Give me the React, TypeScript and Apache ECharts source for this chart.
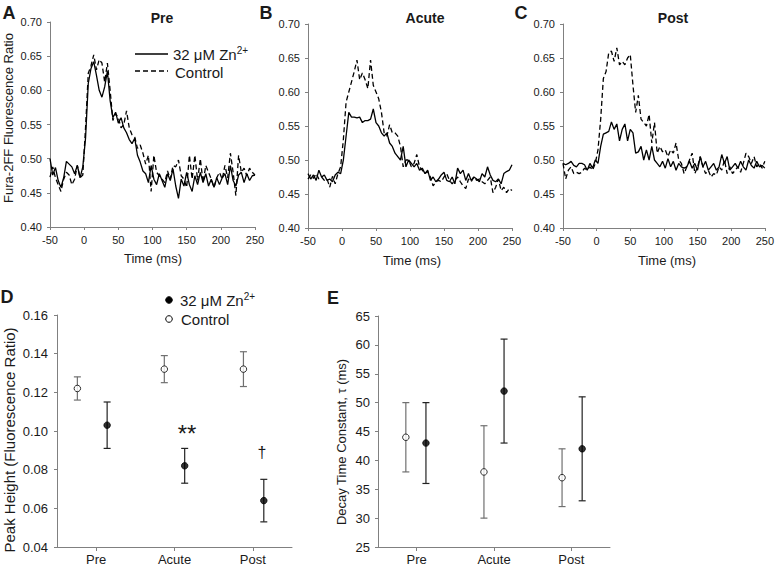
import React, { useEffect, useRef } from 'react';
import * as echarts from 'echarts';

const FONT = 'Liberation Sans, Arial, sans-serif';

// sample times (ms)
const times = [-50, -46, -42, -38, -34, -30, -26, -22, -18, -14, -10, -6, -2,
  2, 6, 10, 14, 18, 22, 26, 30, 34, 38, 42, 46, 50, 54, 58, 62, 66, 70, 74, 78,
  82, 86, 90, 94, 98, 102, 106, 110, 114, 118, 122, 126, 130, 134, 138, 142, 146, 150, 154, 158,
  162, 166, 170, 174, 178, 182, 186, 190, 194, 198, 202, 206, 210, 214, 218, 222, 226, 230, 234, 238,
  242, 246, 250];

const preZn = [0.500, 0.476, 0.487, 0.468, 0.458, 0.472, 0.496, 0.492, 0.488, 0.478, 0.490, 0.472, 0.488,
  0.530, 0.610, 0.632, 0.642, 0.622, 0.600, 0.590, 0.605, 0.628, 0.585,
  0.560, 0.568, 0.552, 0.560, 0.545, 0.538, 0.528, 0.522, 0.530, 0.505,
  0.495, 0.482, 0.478, 0.465, 0.490, 0.470, 0.462, 0.478, 0.468, 0.458,
  0.478, 0.468, 0.485, 0.460, 0.442, 0.470, 0.460, 0.480, 0.462, 0.452,
  0.475, 0.462, 0.480, 0.465, 0.478, 0.460, 0.470, 0.458, 0.472, 0.462,
  0.472, 0.478, 0.462, 0.490, 0.468, 0.460, 0.476, 0.480, 0.465, 0.478,
  0.468, 0.475, 0.476];
const preCtrl = [0.473, 0.488, 0.472, 0.462, 0.452, 0.470, 0.480, 0.476, 0.462, 0.470, 0.490, 0.472, 0.476,
  0.545, 0.625, 0.636, 0.652, 0.630, 0.645, 0.640, 0.612, 0.640, 0.600,
  0.556, 0.566, 0.560, 0.545, 0.550, 0.570, 0.545, 0.535, 0.532, 0.515,
  0.520, 0.508, 0.492, 0.505, 0.452, 0.505, 0.480, 0.475, 0.470, 0.465,
  0.482, 0.470, 0.490, 0.488, 0.498, 0.475, 0.470, 0.458, 0.505, 0.470,
  0.505, 0.468, 0.500, 0.465, 0.490, 0.480, 0.470, 0.458, 0.472, 0.480,
  0.470, 0.490, 0.472, 0.508, 0.480, 0.446, 0.505, 0.480, 0.486, 0.475,
  0.486, 0.480, 0.476];
const acuteZn = [0.480, 0.472, 0.478, 0.470, 0.485, 0.475, 0.478, 0.470, 0.472, 0.468, 0.478, 0.482, 0.480,
  0.500, 0.535, 0.570, 0.563, 0.563, 0.562, 0.563, 0.555, 0.558, 0.558,
  0.560, 0.575, 0.555, 0.550, 0.540, 0.535, 0.540, 0.525, 0.520, 0.510,
  0.505, 0.500, 0.520, 0.490, 0.500, 0.495, 0.490, 0.495, 0.485, 0.488,
  0.480, 0.485, 0.470, 0.475, 0.468, 0.472, 0.478, 0.482, 0.470, 0.468,
  0.475, 0.465, 0.488, 0.480, 0.485, 0.470, 0.480, 0.470, 0.475, 0.472,
  0.468, 0.480, 0.475, 0.490, 0.478, 0.470, 0.468, 0.472, 0.465, 0.480,
  0.483, 0.485, 0.493];
const acuteCtrl = [0.472, 0.478, 0.473, 0.480, 0.472, 0.475, 0.470, 0.472, 0.460, 0.476, 0.465, 0.480, 0.490,
  0.530, 0.585, 0.600, 0.615, 0.630, 0.647, 0.618, 0.628, 0.618, 0.605,
  0.647, 0.610, 0.600, 0.590, 0.570, 0.540, 0.535, 0.552, 0.540, 0.540,
  0.535, 0.520, 0.490, 0.500, 0.500, 0.490, 0.495, 0.508, 0.490, 0.485,
  0.480, 0.483, 0.475, 0.462, 0.468, 0.470, 0.468, 0.475, 0.480, 0.470,
  0.465, 0.470, 0.475, 0.468, 0.462, 0.458, 0.472, 0.468, 0.475, 0.470,
  0.472, 0.468, 0.465, 0.470, 0.475, 0.452, 0.460, 0.472, 0.455, 0.460,
  0.452, 0.458, 0.455];
const postZn = [0.495, 0.493, 0.495, 0.498, 0.492, 0.490, 0.495, 0.495, 0.493, 0.485, 0.495, 0.488, 0.500,
  0.495, 0.520, 0.538, 0.540, 0.542, 0.556, 0.545, 0.553, 0.528, 0.545,
  0.553, 0.528, 0.545, 0.540, 0.510, 0.512, 0.520, 0.500, 0.515, 0.500,
  0.520, 0.500, 0.495, 0.490, 0.498, 0.488, 0.502, 0.490, 0.498, 0.485,
  0.495, 0.490, 0.488, 0.490, 0.498, 0.488, 0.495, 0.485, 0.505, 0.490,
  0.498, 0.485, 0.490, 0.495, 0.485, 0.490, 0.508, 0.495, 0.505, 0.485,
  0.490, 0.495, 0.488, 0.498, 0.490, 0.485, 0.500, 0.492, 0.488, 0.498,
  0.490, 0.492, 0.488];
const postCtrl = [0.495, 0.472, 0.485, 0.490, 0.480, 0.482, 0.480, 0.482, 0.488, 0.485, 0.490, 0.485, 0.495,
  0.515, 0.560, 0.620, 0.630, 0.658, 0.660, 0.645, 0.665, 0.640, 0.645,
  0.640, 0.650, 0.655, 0.610, 0.570, 0.595, 0.560, 0.555, 0.550, 0.567,
  0.525, 0.555, 0.510, 0.520, 0.512, 0.515, 0.505, 0.515, 0.510, 0.525,
  0.500, 0.495, 0.480, 0.490, 0.500, 0.510, 0.480, 0.490, 0.505, 0.490,
  0.480, 0.485, 0.475, 0.480, 0.478, 0.490, 0.485, 0.500, 0.480, 0.490,
  0.480, 0.485, 0.490, 0.482, 0.495, 0.510, 0.505, 0.495, 0.505, 0.490,
  0.495, 0.488, 0.498];

const conditions = ['Pre', 'Acute', 'Post'];
const peakZn = [0.103, 0.082, 0.064];
const peakZnErr = [0.012, 0.009, 0.011];
const peakCtrl = [0.122, 0.132, 0.132];
const peakCtrlErr = [0.006, 0.007, 0.009];
const tauZn = [43, 52, 42];
const tauZnErr = [7, 9, 9];
const tauCtrl = [44, 38, 37];
const tauCtrlErr = [6, 8, 5];

// horizontal placement of markers within category bands (layout)
const dCtrlShift = [-0.24, -0.13, -0.12];
const dZnShift = [0.14, 0.13, 0.14];
const eCtrlShift = [-0.14, -0.13, -0.12];
const eZnShift = [0.12, 0.13, 0.14];

const AX = '#808080';
const TXT = '#1a1a1a';

function pairs(vals: number[]) {
  return times.map((t, i) => [t, vals[i]]);
}

function traceSeries(idx: number, vals: number[], dashed: boolean) {
  return {
    type: 'line', xAxisIndex: idx, yAxisIndex: idx, data: pairs(vals),
    showSymbol: false, symbol: 'none', silent: true,
    lineStyle: { color: '#000', width: 1.3, type: dashed ? [5, 3] : 'solid' },
  };
}

function errSeries(xIdx: number, yIdx: number, means: number[], errs: number[], shifts: number[], color: string) {
  return {
    type: 'custom', xAxisIndex: xIdx, yAxisIndex: yIdx, silent: true, z: 2,
    data: means.map((m, i) => [i + 0.5 + shifts[i], m - errs[i], m + errs[i]]),
    renderItem: (_p: any, api: any) => {
      const x = api.value(0);
      const a = api.coord([x, api.value(2)]);
      const b = api.coord([x, api.value(1)]);
      const w = 3.5;
      const st = { stroke: color, lineWidth: 1.2 };
      return {
        type: 'group', children: [
          { type: 'line', shape: { x1: a[0], y1: a[1], x2: b[0], y2: b[1] }, style: st },
          { type: 'line', shape: { x1: a[0] - w, y1: a[1], x2: a[0] + w, y2: a[1] }, style: st },
          { type: 'line', shape: { x1: b[0] - w, y1: b[1], x2: b[0] + w, y2: b[1] }, style: st },
        ],
      };
    },
  };
}

function pointSeries(xIdx: number, yIdx: number, means: number[], shifts: number[], filled: boolean) {
  return {
    type: 'scatter', xAxisIndex: xIdx, yAxisIndex: yIdx, silent: true, z: 3,
    symbol: 'circle', symbolSize: 6.5,
    data: means.map((m, i) => [i + 0.5 + shifts[i], m]),
    itemStyle: { color: filled ? '#000' : '#fff', borderColor: '#000', borderWidth: 1 },
  };
}

const line = { show: true, onZero: false, lineStyle: { color: AX } };

function timeAxis(grid: number) {
  return {
    type: 'value', gridIndex: grid, min: -50, max: 250, interval: 50,
    axisLine: line,
    axisTick: { show: true, length: 3, lineStyle: { color: AX } },
    axisLabel: { color: TXT, fontFamily: FONT, fontSize: 11, margin: 7 },
    splitLine: { show: false },
  };
}
function ratioAxis(grid: number) {
  return {
    type: 'value', gridIndex: grid, min: 0.4, max: 0.7, interval: 0.05,
    axisLine: line,
    axisTick: { show: true, length: 3, lineStyle: { color: AX } },
    axisLabel: { color: TXT, fontFamily: FONT, fontSize: 11, margin: 8, formatter: (v: number) => v.toFixed(2) },
    splitLine: { show: false },
  };
}
function catAxis(grid: number) {
  return {
    type: 'category', gridIndex: grid, data: conditions, boundaryGap: true,
    axisLine: line,
    axisTick: { show: true, alignWithLabel: true, length: 4, lineStyle: { color: AX } },
    axisLabel: { color: TXT, fontFamily: FONT, fontSize: 13, margin: 6 },
    splitLine: { show: false },
  };
}
function hiddenAxis(grid: number) {
  return { type: 'value', gridIndex: grid, min: 0, max: 3, show: false, splitLine: { show: false } };
}

function txt(text: string, x: number, y: number, size: number, opts: any = {}) {
  return {
    type: 'text', x, y, rotation: opts.rotation || 0, silent: true,
    style: {
      text, fill: TXT, fontFamily: FONT, fontSize: size, fontWeight: opts.bold ? 'bold' : 'normal',
      textAlign: opts.align || 'center', textVerticalAlign: 'middle', rich: opts.rich,
    },
  };
}

export default function App() {
  const ref = useRef<HTMLDivElement>(null);
  useEffect(() => {
    const chart = echarts.init(ref.current!, null, { renderer: 'svg' });
    const supRich = {
      a: { fontSize: 15, fontFamily: FONT, fill: TXT },
      s: { fontSize: 10, fontFamily: FONT, fill: TXT, padding: [0, 0, 8, 0] },
    };
    const option: any = {
      animation: false,
      backgroundColor: '#fff',
      grid: [
        { left: 50, top: 22, width: 205, height: 205 },
        { left: 308, top: 24, width: 204, height: 204 },
        { left: 563, top: 24, width: 204, height: 204 },
        { left: 57, top: 315, width: 235, height: 233 },
        { left: 378, top: 316, width: 232, height: 232 },
      ],
      xAxis: [timeAxis(0), timeAxis(1), timeAxis(2), catAxis(3), hiddenAxis(3), catAxis(4), hiddenAxis(4)],
      yAxis: [
        ratioAxis(0), ratioAxis(1), ratioAxis(2),
        {
          type: 'value', gridIndex: 3, min: 0.04, max: 0.16, interval: 0.02,
          axisLine: line,
          axisTick: { show: true, length: 3, lineStyle: { color: AX } },
          axisLabel: { color: TXT, fontFamily: FONT, fontSize: 13, margin: 9, formatter: (v: number) => v.toFixed(2) },
          splitLine: { show: false },
        },
        {
          type: 'value', gridIndex: 4, min: 25, max: 65, interval: 5,
          axisLine: line,
          axisTick: { show: true, length: 3, lineStyle: { color: AX } },
          axisLabel: { color: TXT, fontFamily: FONT, fontSize: 13, margin: 8 },
          splitLine: { show: false },
        },
      ],
      series: [
        traceSeries(0, preZn, false), traceSeries(0, preCtrl, true),
        traceSeries(1, acuteZn, false), traceSeries(1, acuteCtrl, true),
        traceSeries(2, postZn, false), traceSeries(2, postCtrl, true),
        errSeries(4, 3, peakCtrl, peakCtrlErr, dCtrlShift, '#707070'),
        errSeries(4, 3, peakZn, peakZnErr, dZnShift, '#222'),
        pointSeries(4, 3, peakCtrl, dCtrlShift, false),
        pointSeries(4, 3, peakZn, dZnShift, true),
        errSeries(6, 4, tauCtrl, tauCtrlErr, eCtrlShift, '#707070'),
        errSeries(6, 4, tauZn, tauZnErr, eZnShift, '#222'),
        pointSeries(6, 4, tauCtrl, eCtrlShift, false),
        pointSeries(6, 4, tauZn, eZnShift, true),
      ],
      graphic: [
        txt('A', 9, 13, 18, { bold: true }),
        txt('B', 266, 13, 18, { bold: true }),
        txt('C', 521, 13, 18, { bold: true }),
        txt('D', 7, 297, 18, { bold: true }),
        txt('E', 333, 298, 18, { bold: true }),
        txt('Pre', 162, 18, 14, { bold: true }),
        txt('Acute', 425, 18, 14, { bold: true }),
        txt('Post', 673, 18, 14, { bold: true }),
        txt('Fura-2FF Fluorescence Ratio', 8, 118, 13, { rotation: Math.PI / 2 }),
        txt('Time (ms)', 153, 258, 13),
        txt('Time (ms)', 412, 260, 13),
        txt('Time (ms)', 667, 260, 13),
        txt('Peak Height (Fluorescence Ratio)', 9, 440, 15, { rotation: Math.PI / 2 }),
        txt('Decay Time Constant, τ (ms)', 341, 442, 13, { rotation: Math.PI / 2 }),
        // legend A
        { type: 'line', silent: true, shape: { x1: 135, y1: 54, x2: 168, y2: 54 }, style: { stroke: '#000', lineWidth: 1.5 } },
        { type: 'line', silent: true, shape: { x1: 135, y1: 71, x2: 168, y2: 71 }, style: { stroke: '#000', lineWidth: 1.5, lineDash: [5, 3] } },
        txt('{a|32 μM Zn}{s|2+}', 173, 54, 15, { align: 'left', rich: supRich }),
        txt('Control', 175, 72, 15, { align: 'left' }),
        // legend D
        { type: 'circle', silent: true, shape: { cx: 169, cy: 300, r: 3.3 }, style: { fill: '#000', stroke: '#000', lineWidth: 1 } },
        { type: 'circle', silent: true, shape: { cx: 169, cy: 319, r: 3.3 }, style: { fill: '#fff', stroke: '#000', lineWidth: 1 } },
        txt('{a|32 μM Zn}{s|2+}', 180, 300, 15, { align: 'left', rich: supRich }),
        txt('Control', 181, 319, 15, { align: 'left' }),
        // significance marks
        txt('**', 187, 433, 24),
        txt('†', 262, 452, 16),
      ],
    };
    chart.setOption(option);
    return () => chart.dispose();
  }, []);
  return <div ref={ref} style={{ position: 'absolute', left: 0, top: 0, width: 777, height: 566 }} />;
}
